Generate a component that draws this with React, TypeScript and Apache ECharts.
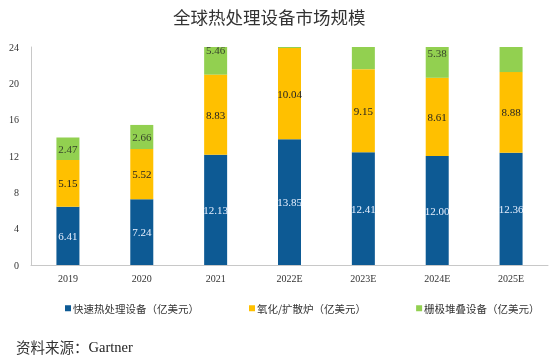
import React, { useEffect, useRef } from "react";
import * as echarts from "echarts";

const categories = ["2019", "2020", "2021", "2022E", "2023E", "2024E", "2025E"];
const rtpValues = [6.41, 7.24, 12.13, 13.85, 12.41, 12.0, 12.36];
const oxidationValues = [5.15, 5.52, 8.83, 10.04, 9.15, 8.61, 8.88];
const gateStackValues = [2.47, 2.66, 5.46, 5.5, 5.6, 5.38, 5.7];
const seriesNames = ["快速热处理设备（亿美元）", "氧化/扩散炉（亿美元）", "栅极堆叠设备（亿美元）"];
const yTicks = { min: 0, max: 24, interval: 4 };
const titleText = "全球热处理设备市场规模";
const sourceLabel = "资料来源：";
const sourceName = "Gartner";

const COLORS = ["#0D5A94", "#FFC000", "#92D050"];
const SERIF = "'Liberation Serif', 'Times New Roman', serif";
const CJK = "'Noto Sans CJK SC', sans-serif";

export default function App() {
  const ref = useRef<HTMLDivElement>(null);
  useEffect(() => {
    if (!ref.current) return;
    const chart = echarts.init(ref.current, undefined, { renderer: "svg" });
    // green label positions at the centre of the (unclipped) green segment
    const greenLabelData = categories.map((c, i) => {
      const center = rtpValues[i] + oxidationValues[i] + gateStackValues[i] / 2;
      return center <= yTicks.max ? [i, center, gateStackValues[i]] : [i, null, gateStackValues[i]];
    });
    const fmt = (p: any) => Number(p.value).toFixed(2);
    chart.setOption({
      animation: false,
      title: {
        text: titleText,
        left: 168,
        top: 3,
        textStyle: { fontFamily: CJK, fontSize: 17.5, fontWeight: "normal", color: "#333" },
      },
      legend: {
        data: seriesNames,
        left: 60,
        top: 298,
        itemWidth: 6,
        itemHeight: 6,
        itemGap: 50,
        icon: "rect",
        textStyle: { fontFamily: CJK, fontSize: 10.5, color: "#333", padding: [0, 0, 0, -3] },
      },
      grid: { left: 31, right: 6, top: 47, bottom: 94, containLabel: false },
      xAxis: {
        type: "category",
        data: categories,
        axisLine: { show: true, lineStyle: { color: "#c8c8c8" } },
        axisTick: { show: false },
        axisLabel: { fontFamily: SERIF, fontSize: 10, color: "#333", margin: 8 },
      },
      yAxis: {
        type: "value",
        min: yTicks.min,
        max: yTicks.max,
        interval: yTicks.interval,
        axisLine: { show: true, lineStyle: { color: "#c8c8c8" } },
        axisTick: { show: false },
        splitLine: { show: false },
        axisLabel: { fontFamily: SERIF, fontSize: 10, color: "#333", margin: 12 },
      },
      series: [
        {
          name: seriesNames[0],
          type: "bar",
          stack: "total",
          barWidth: 23,
          data: rtpValues,
          itemStyle: { color: COLORS[0] },
          label: { show: true, position: "inside", formatter: fmt, fontFamily: SERIF, fontSize: 11, color: "#e8f0ff" },
        },
        {
          name: seriesNames[1],
          type: "bar",
          stack: "total",
          barWidth: 23,
          data: oxidationValues,
          itemStyle: { color: COLORS[1] },
          label: { show: true, position: "inside", formatter: fmt, fontFamily: SERIF, fontSize: 11, color: "#222" },
        },
        {
          name: seriesNames[2],
          type: "bar",
          stack: "total",
          barWidth: 23,
          data: gateStackValues,
          itemStyle: { color: COLORS[2] },
          label: { show: false },
        },
        {
          name: "greenLabels",
          type: "scatter",
          data: greenLabelData,
          symbolSize: 1,
          itemStyle: { color: "rgba(0,0,0,0)" },
          silent: true,
          label: {
            show: true,
            position: "inside",
            formatter: (p: any) => Number(p.value[2]).toFixed(2),
            fontFamily: SERIF,
            fontSize: 11,
            color: "#222",
          },
        },
      ],
      graphic: [
        {
          type: "text",
          left: 16,
          top: 339,
          style: {
            text: `{a|${sourceLabel}}{b|${sourceName}}`,
            rich: {
              a: { fontFamily: CJK, fontSize: 14.5, fill: "#333" },
              b: { fontFamily: SERIF, fontSize: 14.5, fill: "#222" },
            },
          },
        },
      ],
    });
    return () => chart.dispose();
  }, []);
  return <div ref={ref} style={{ position: "fixed", left: 0, top: 0, width: 554, height: 359 }} />;
}
